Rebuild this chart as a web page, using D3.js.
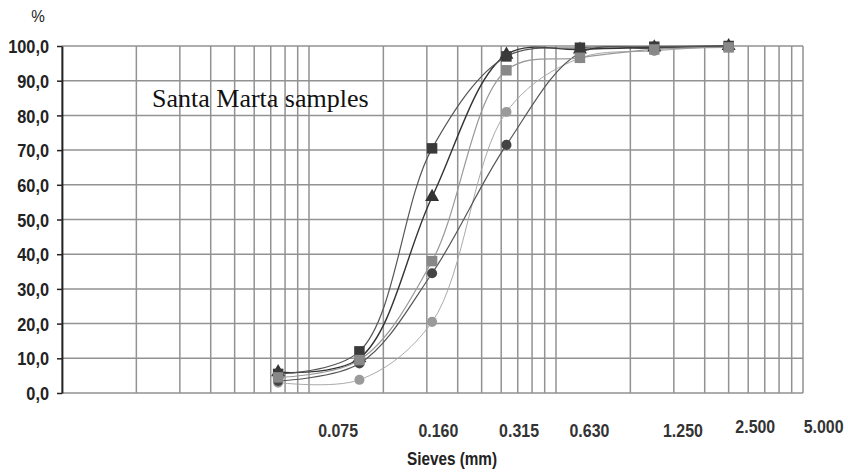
<!DOCTYPE html>
<html>
  <head>
    <meta charset="utf-8" />
    <title>Santa Marta samples - grading curves</title>
    <script src="https://d3js.org/d3.v7.min.js"></script>
    <style>
      body {
        margin: 0;
        background: #fff;
      }
      svg {
        display: block;
      }
      .narrow {
        font-family: "Liberation Sans", Arial, sans-serif;
        fill: #222;
      }
      .grid line {
        stroke: #929292;
        stroke-width: 1.5;
      }
    </style>
  </head>
  <body>
    <svg width="848" height="475"></svg>

    <script>
      // sieve openings (mm) and passing percentages
      const sieves = [0.075, 0.16, 0.315, 0.63, 1.25, 2.5, 5.0];
      const sieveLabels = ["0.075", "0.160", "0.315", "0.630", "1.250", "2.500", "5.000"];
      const yTicks = [0, 10, 20, 30, 40, 50, 60, 70, 80, 90, 100];

      const sampleA = [5.5, 12.0, 70.5, 97.0, 99.5, 99.8, 100];  // dark square
      const sampleB = [6.0, 10.0, 56.5, 97.5, 99.0, 99.6, 100];  // triangle
      const sampleC = [3.5, 8.5, 34.5, 71.5, 98.0, 99.3, 100];   // dark circle
      const sampleD = [3.0, 3.8, 20.5, 81.0, 96.5, 98.6, 100];   // light circle
      const sampleE = [4.5, 9.5, 38.0, 93.0, 96.6, 99.0, 99.6];  // grey square

      const series = [
        { values: sampleD, shape: "circle", fill: "#9a9a9a", line: "#aaa", lw: 1 },
        { values: sampleC, shape: "circle", fill: "#444", line: "#555", lw: 1.2 },
        { values: sampleB, shape: "triangle", fill: "#333", line: "#333", lw: 1.4 },
        { values: sampleA, shape: "square", fill: "#3a3a3a", line: "#555", lw: 1.2 },
        { values: sampleE, shape: "square", fill: "#888", line: "#999", lw: 1.2 }
      ];

      const svg = d3.select("svg");
      const margin = { top: 46, right: 45, bottom: 82, left: 62 };
      const width = +svg.attr("width");
      const height = +svg.attr("height");

      const x = d3.scaleLog().domain([0.01, 10]).range([margin.left, width - margin.right]);
      const y = d3.scaleLinear().domain([0, 100]).range([height - margin.bottom, margin.top]);

      // squeeze a text horizontally around its anchor, like a narrow font
      function narrow(sel, k, x0, y0) {
        sel.attr("x", x0 / k).attr("y", y0).attr("transform", `scale(${k},1)`);
      }

      // grid
      const grid = svg.append("g").attr("class", "grid");
      grid.selectAll(".v").data(x.ticks()).join("line")
        .attr("x1", d => x(d)).attr("x2", d => x(d))
        .attr("y1", y(100)).attr("y2", y(0));
      grid.selectAll(".h").data(yTicks).join("line")
        .attr("x1", x(0.01)).attr("x2", x(10))
        .attr("y1", d => y(d)).attr("y2", d => y(d));

      // y axis
      const yAxis = svg.append("g")
        .attr("transform", `translate(${margin.left},0)`)
        .call(d3.axisLeft(y).tickValues(yTicks).tickSize(5).tickSizeOuter(0)
          .tickFormat(d => d.toFixed(1).replace(".", ",")));
      yAxis.select(".domain").attr("stroke", "#222").attr("stroke-width", 1.8);
      yAxis.selectAll(".tick line").attr("stroke", "#222").attr("stroke-width", 1.5);
      yAxis.selectAll(".tick text")
        .attr("class", "narrow")
        .attr("dy", "0.35em")
        .style("font-size", "19px")
        .style("font-weight", "bold")
        .call(narrow, 0.86, -13, 0);

      svg.append("text")
        .attr("class", "narrow")
        .attr("text-anchor", "middle")
        .style("font-size", "17px")
        .call(narrow, 0.9, 38, 22)
        .text("%");

      // x tick labels - the original sits them off their sieve lines
      const labelShift = [60, 79, 87, 83, 103, 101, 95];
      const labelLift = [0, 0, 0, 0, 0, -4, -4];
      svg.append("g").selectAll("text").data(sieves).join("text")
        .attr("class", "narrow")
        .attr("text-anchor", "middle")
        .style("font-size", "19px")
        .style("font-weight", "bold")
        .style("fill", "#333")
        .each(function (d, i) {
          d3.select(this).call(narrow, 0.84, x(d) + labelShift[i], 437 + labelLift[i]);
        })
        .text((d, i) => sieveLabels[i]);

      svg.append("text")
        .attr("class", "narrow")
        .attr("text-anchor", "middle")
        .style("font-size", "18px")
        .style("font-weight", "bold")
        .call(narrow, 0.85, 452, 465)
        .text("Sieves (mm)");

      svg.append("text")
        .attr("x", 152).attr("y", 107)
        .style("font-family", "'Liberation Serif', 'Times New Roman', serif")
        .style("font-size", "26px")
        .attr("fill", "#111")
        .text("Santa Marta samples");

      // curves
      const line = d3.line()
        .x((d, i) => x(sieves[i]))
        .y(d => y(d))
        .curve(d3.curveCatmullRom.alpha(0.5));

      const shapes = {
        square: d3.symbol().type(d3.symbolSquare).size(110),
        triangle: d3.symbol().type(d3.symbolTriangle).size(85),
        circle: d3.symbol().type(d3.symbolCircle).size(80)
      };

      series.forEach(s => {
        svg.append("path")
          .datum(s.values)
          .attr("fill", "none")
          .attr("stroke", s.line)
          .attr("stroke-width", s.lw)
          .attr("d", line);
      });
      series.forEach(s => {
        svg.append("g").selectAll("path").data(s.values).join("path")
          .attr("transform", (d, i) => `translate(${x(sieves[i])},${y(d)})`)
          .attr("d", shapes[s.shape]())
          .attr("fill", s.fill);
      });
    </script>
  </body>
</html>
